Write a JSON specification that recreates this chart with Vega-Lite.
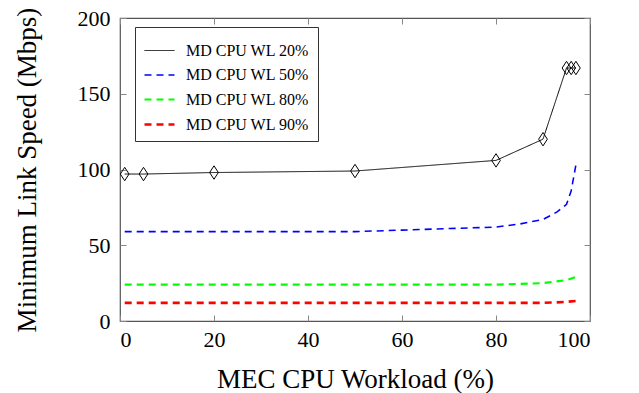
{
  "$schema": "https://vega.github.io/schema/vega-lite/v6.json",
  "width": 470,
  "height": 303,
  "autosize": "none",
  "padding": {"left": 120, "top": 18, "right": 49, "bottom": 72},
  "background": "white",
  "config": {
    "font": "Liberation Serif",
    "view": {"stroke": "#555", "strokeWidth": 1.2},
    "axis": {"grid": false, "domain": false, "tickColor": "#888", "tickSize": -6, "labelColor": "black", "titleColor": "black", "labelFont": "Liberation Serif", "titleFont": "Liberation Serif", "labelFontSize": 22, "titleFontSize": 27, "titleFontWeight": "normal"},
    "legend": {"labelFont": "Liberation Serif"}
  },
  "data": {"values": [
    {"series": "MD CPU WL 20%", "x": 1, "y": 97},
    {"series": "MD CPU WL 20%", "x": 5, "y": 97},
    {"series": "MD CPU WL 20%", "x": 20, "y": 98},
    {"series": "MD CPU WL 20%", "x": 50, "y": 99},
    {"series": "MD CPU WL 20%", "x": 80, "y": 106},
    {"series": "MD CPU WL 20%", "x": 90, "y": 120},
    {"series": "MD CPU WL 20%", "x": 95, "y": 167},
    {"series": "MD CPU WL 20%", "x": 96, "y": 167},
    {"series": "MD CPU WL 20%", "x": 97, "y": 167},
    {"series": "MD CPU WL 50%", "x": 1, "y": 59},
    {"series": "MD CPU WL 50%", "x": 50, "y": 59},
    {"series": "MD CPU WL 50%", "x": 60, "y": 60},
    {"series": "MD CPU WL 50%", "x": 70, "y": 61},
    {"series": "MD CPU WL 50%", "x": 80, "y": 62},
    {"series": "MD CPU WL 50%", "x": 85, "y": 64},
    {"series": "MD CPU WL 50%", "x": 90, "y": 67},
    {"series": "MD CPU WL 50%", "x": 93, "y": 72},
    {"series": "MD CPU WL 50%", "x": 95, "y": 77},
    {"series": "MD CPU WL 50%", "x": 96, "y": 86},
    {"series": "MD CPU WL 50%", "x": 97, "y": 103},
    {"series": "MD CPU WL 80%", "x": 1, "y": 24},
    {"series": "MD CPU WL 80%", "x": 80, "y": 24},
    {"series": "MD CPU WL 80%", "x": 90, "y": 25},
    {"series": "MD CPU WL 80%", "x": 95, "y": 27},
    {"series": "MD CPU WL 80%", "x": 97, "y": 29},
    {"series": "MD CPU WL 90%", "x": 1, "y": 12},
    {"series": "MD CPU WL 90%", "x": 90, "y": 12},
    {"series": "MD CPU WL 90%", "x": 95, "y": 12.6},
    {"series": "MD CPU WL 90%", "x": 97, "y": 13.2}
  ]},
  "layer": [
    {
      "mark": {"type": "line", "clip": true},
      "encoding": {
        "x": {"field": "x", "type": "quantitative", "scale": {"domain": [0, 100], "nice": false}, "axis": {"orient": "bottom", "values": [0, 20, 40, 60, 80, 100], "title": "MEC CPU Workload (%)", "labelPadding": 14, "titlePadding": 16}},
        "y": {"field": "y", "type": "quantitative", "scale": {"domain": [0, 200], "nice": false}, "axis": {"orient": "left", "values": [0, 50, 100, 150, 200], "title": "Minimum Link Speed (Mbps)", "labelPadding": 16, "titlePadding": 36}},
        "color": {"field": "series", "type": "nominal", "scale": {"domain": ["MD CPU WL 20%", "MD CPU WL 50%", "MD CPU WL 80%", "MD CPU WL 90%"], "range": ["black", "#0000ff", "#00ff00", "#ff0000"]},
          "legend": {"title": null, "orient": "none", "legendX": 15, "legendY": 9, "symbolType": "stroke", "symbolSize": 900, "symbolStrokeWidth": 2.7, "labelFontSize": 16, "labelColor": "black", "rowPadding": -6, "padding": 8, "strokeColor": "#333", "fillColor": "white", "cornerRadius": 0, "labelOffset": 10}},
        "strokeDash": {"field": "series", "type": "nominal", "scale": {"domain": ["MD CPU WL 20%", "MD CPU WL 50%", "MD CPU WL 80%", "MD CPU WL 90%"], "range": [[1, 0], [7, 5], [7, 5], [7, 5]]}},
        "strokeWidth": {"field": "series", "type": "nominal", "scale": {"domain": ["MD CPU WL 20%", "MD CPU WL 50%", "MD CPU WL 80%", "MD CPU WL 90%"], "range": [1, 2.7, 2.7, 2.7]}, "legend": null}
      }
    },
    {
      "transform": [{"filter": "datum.series === 'MD CPU WL 20%'"}],
      "mark": {"type": "point", "shape": "M0,-1L0.65,0L0,1L-0.65,0Z", "filled": false, "stroke": "black", "strokeWidth": 1, "size": 180, "opacity": 1},
      "encoding": {
        "x": {"field": "x", "type": "quantitative", "axis": {"orient": "top", "values": [0, 20, 40, 60, 80, 100], "labels": false, "title": null}},
        "y": {"field": "y", "type": "quantitative", "axis": {"orient": "right", "values": [0, 50, 100, 150, 200], "labels": false, "title": null}}
      }
    }
  ],
  "resolve": {"axis": {"x": "independent", "y": "independent"}}
}
